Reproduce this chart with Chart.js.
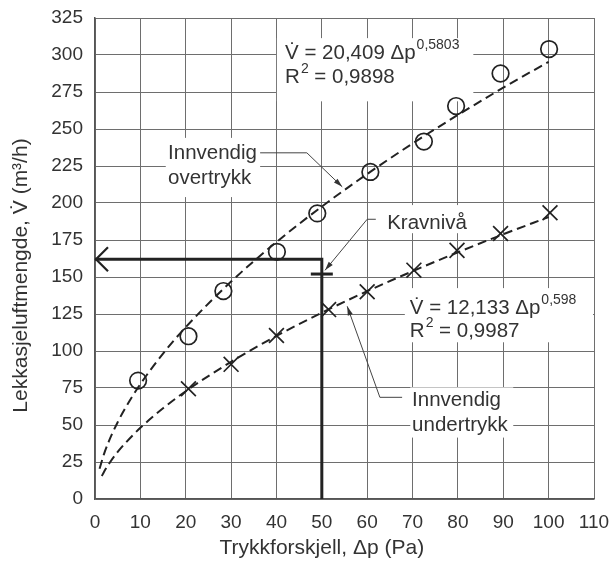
<!DOCTYPE html>
<html>
<head>
<meta charset="utf-8">
<script src="https://cdn.jsdelivr.net/npm/chart.js@4.4.1/dist/chart.umd.min.js"></script>
<style>
  html, body { margin: 0; padding: 0; background: #fff; }
  #wrap { width: 611px; height: 561px; }
</style>
</head>
<body>
<div id="wrap"><canvas id="lekkasjeChart" width="611" height="561"></canvas></div>
<script>
// Måleverdier, innvendig overtrykk (sirkler)
const overX = [9.5, 20.6, 28.3, 40.1, 49.0, 60.7, 72.5, 79.6, 89.4, 100.1];
const overY = [80, 110, 140.5, 167, 193, 221, 241.5, 265.5, 287.5, 304];

// Måleverdier, innvendig undertrykk (kryss)
const underX = [20.6, 30.0, 40.0, 51.5, 60.0, 70.3, 79.8, 89.4, 100.3];
const underY = [74.5, 91, 110.5, 128, 140, 154.6, 168, 179.4, 193.4];

// Tilpassede kurver (stiplet)
const kurveOverX = [1, 2, 3, 5, 7, 10, 15, 20, 30, 40, 50, 60, 70, 80, 90, 100];
const kurveOverY = [20.4, 30.5, 38.6, 51.9, 63.1, 77.6, 98.3, 116.1, 146.9, 173.6, 197.6, 219.6, 240.2, 259.5, 277.9, 295.4];
const kurveUnderX = [1.5, 2, 3, 5, 7, 10, 15, 20, 30, 40, 50, 60, 70, 80, 90, 100];
const kurveUnderY = [15.5, 18.4, 23.4, 31.8, 38.8, 48.1, 61.3, 72.8, 92.7, 110.2, 125.9, 140.4, 153.9, 166.7, 178.9, 190.5];

// Kravnivå ved 50 Pa
const kravX = [0, 50, 50];
const kravY = [162, 162, 0];
const kravMerke = { x: 50, y: 152 };

// Akser
const xTicks = [0, 10, 20, 30, 40, 50, 60, 70, 80, 90, 100, 110];
const yTicks = [0, 25, 50, 75, 100, 125, 150, 175, 200, 225, 250, 275, 300, 325];

const FONT = "'Liberation Sans', Arial, sans-serif";
const TEKST = '#333';
const STREK = '#222';

function punkter(xs, ys) {
    return xs.map((x, i) => ({ x: x, y: ys[i] }));
}

// Tegner en liten fylt pilspiss i (x2,y2), rettet fra (x1,y1)
function pilspiss(ctx, x1, y1, x2, y2) {
    const a = Math.atan2(y2 - y1, x2 - x1);
    const l = 9, b = 2.6;
    ctx.beginPath();
    ctx.moveTo(x2, y2);
    ctx.lineTo(x2 - l * Math.cos(a) + b * Math.sin(a), y2 - l * Math.sin(a) - b * Math.cos(a));
    ctx.lineTo(x2 - l * Math.cos(a) - b * Math.sin(a), y2 - l * Math.sin(a) + b * Math.cos(a));
    ctx.closePath();
    ctx.fill();
}

// Tekst med hevet eksponent, returnerer x etter eksponenten
function formel(ctx, x, y, grunn, eksp) {
    ctx.font = '20.5px ' + FONT;
    ctx.fillText(grunn, x, y);
    const w = ctx.measureText(grunn).width;
    ctx.font = '14px ' + FONT;
    ctx.fillText(eksp, x + w + 1, y - 10);
    return x + w + 1 + ctx.measureText(eksp).width;
}

const annotasjoner = {
    id: 'annotasjoner',
    beforeDatasetsDraw(chart) {
        const ctx = chart.ctx;
        const sx = chart.scales.x, sy = chart.scales.y;
        // hvite felt bak tekstene, skjuler rutenettet
        const felt = [
            [40.1, 83.4, 311.4, 268.7],
            [68.3, 110, 142.5, 105.9],
            [15.6, 36.4, 244, 204],
            [62.8, 83.1, 198.6, 179.6],
            [69.5, 92.2, 75.4, 41.5]
        ];
        ctx.save();
        ctx.fillStyle = '#fff';
        felt.forEach(f => {
            const x1 = sx.getPixelForValue(f[0]), x2 = Math.min(sx.getPixelForValue(f[1]), chart.chartArea.right - 1);
            const y1 = sy.getPixelForValue(f[2]), y2 = sy.getPixelForValue(f[3]);
            ctx.fillRect(x1, y1, x2 - x1, y2 - y1);
        });
        ctx.restore();
    },
    afterDatasetsDraw(chart) {
        const ctx = chart.ctx;
        const sx = chart.scales.x, sy = chart.scales.y;
        const px = v => sx.getPixelForValue(v);
        const py = v => sy.getPixelForValue(v);
        ctx.save();

        // åpen pil ved y-aksen
        ctx.strokeStyle = STREK;
        ctx.lineWidth = 2.2;
        ctx.beginPath();
        ctx.moveTo(px(0) + 13, py(kravY[0]) - 12);
        ctx.lineTo(px(0) + 1, py(kravY[0]));
        ctx.lineTo(px(0) + 13, py(kravY[0]) + 12);
        ctx.stroke();

        // T-merke for kravnivå
        ctx.lineWidth = 3;
        ctx.beginPath();
        ctx.moveTo(px(kravMerke.x) - 11, py(kravMerke.y));
        ctx.lineTo(px(kravMerke.x) + 11, py(kravMerke.y));
        ctx.stroke();

        // ledelinjer
        ctx.strokeStyle = '#444';
        ctx.fillStyle = '#333';
        ctx.lineWidth = 1;
        const ledere = [
            [[36.4, 233.9], [46.7, 233.9], [54.5, 210.9]],
            [[61.9, 189], [60.0, 189], [50.7, 154.5]],
            [[67.7, 68.7], [62.8, 68.7], [55.6, 130.2]]
        ];
        ledere.forEach(l => {
            ctx.beginPath();
            l.forEach((p, i) => i ? ctx.lineTo(px(p[0]), py(p[1])) : ctx.moveTo(px(p[0]), py(p[1])));
            ctx.stroke();
            const a = l[l.length - 2], b = l[l.length - 1];
            pilspiss(ctx, px(a[0]), py(a[1]), px(b[0]), py(b[1]));
        });

        // tekster
        ctx.fillStyle = TEKST;
        ctx.textBaseline = 'alphabetic';
        ctx.textAlign = 'left';
        formel(ctx, px(41.9), py(297), 'V\u0307 = 20,409 \u0394p', '0,5803');
        let xr = formel(ctx, px(41.9), py(281), 'R', '2');
        ctx.font = '20.5px ' + FONT;
        ctx.fillText(' = 0,9898', xr, py(281));

        formel(ctx, px(69.4), py(125.2), 'V\u0307 = 12,133 \u0394p', '0,598');
        xr = formel(ctx, px(69.4), py(109.4), 'R', '2');
        ctx.font = '20.5px ' + FONT;
        ctx.fillText(' = 0,9987', xr, py(109.4));

        ctx.font = '20.5px ' + FONT;
        ctx.fillText('Innvendig', px(16.1), py(229.5));
        ctx.fillText('overtrykk', px(16.1), py(212.6));
        ctx.fillText('Kravnivå', px(64.4), py(182.1));
        ctx.fillText('Innvendig', px(69.9), py(62.7));
        ctx.fillText('undertrykk', px(69.9), py(46.2));

        // aksetitler
        ctx.font = '21px ' + FONT;
        ctx.textAlign = 'center';
        ctx.fillText('Trykkforskjell, \u0394p (Pa)', px(50), chart.chartArea.bottom + 55);
        ctx.translate(27, py(151));
        ctx.rotate(-Math.PI / 2);
        ctx.fillText('Lekkasjeluftmengde, V\u0307 (m\u00b3/h)', 0, 0);
        ctx.restore();
    }
};

const ctx = document.getElementById('lekkasjeChart').getContext('2d');
new Chart(ctx, {
    type: 'scatter',
    data: {
        datasets: [
            {
                label: 'Kurve overtrykk',
                data: punkter(kurveOverX, kurveOverY),
                showLine: true,
                borderColor: STREK,
                borderWidth: 2,
                borderDash: [9, 5],
                cubicInterpolationMode: 'monotone',
                pointRadius: 0
            },
            {
                label: 'Kurve undertrykk',
                data: punkter(kurveUnderX, kurveUnderY),
                showLine: true,
                borderColor: STREK,
                borderWidth: 2,
                borderDash: [9, 5],
                cubicInterpolationMode: 'monotone',
                pointRadius: 0
            },
            {
                label: 'Innvendig overtrykk',
                data: punkter(overX, overY),
                pointStyle: 'circle',
                pointRadius: 8.3,
                borderColor: STREK,
                backgroundColor: 'rgba(0,0,0,0)',
                borderWidth: 1.7
            },
            {
                label: 'Innvendig undertrykk',
                data: punkter(underX, underY),
                pointStyle: 'crossRot',
                pointRadius: 10.5,
                borderColor: STREK,
                borderWidth: 1.7
            },
            {
                label: 'Kravnivå',
                data: punkter(kravX, kravY),
                showLine: true,
                borderColor: STREK,
                borderWidth: 3,
                pointRadius: 0
            }
        ]
    },
    options: {
        responsive: false,
        animation: false,
        layout: { padding: { left: 0, top: 18, right: 17, bottom: 0 } },
        plugins: {
            legend: { display: false },
            tooltip: { enabled: false }
        },
        scales: {
            x: {
                type: 'linear',
                min: 0,
                max: 110,
                afterBuildTicks: axis => { axis.ticks = xTicks.map(v => ({ value: v })); },
                afterFit: axis => {
                    axis.height = 62;
                    axis.paddingLeft = 0;
                    axis.paddingRight = 0;
                },
                grid: { color: '#6e6e6e', lineWidth: 1, drawTicks: false },
                border: { color: '#555', width: 1.5 },
                ticks: { font: { family: FONT, size: 19 }, color: TEKST, padding: 12, maxRotation: 0 }
            },
            y: {
                type: 'linear',
                min: 0,
                max: 325,
                afterBuildTicks: axis => { axis.ticks = yTicks.map(v => ({ value: v })); },
                afterFit: axis => {
                    axis.width = 95;
                    axis.paddingTop = 0;
                    axis.paddingBottom = 0;
                },
                grid: { color: '#6e6e6e', lineWidth: 1, drawTicks: false },
                border: { color: '#555', width: 1.5 },
                ticks: { font: { family: FONT, size: 19 }, color: TEKST, padding: 12 }
            }
        }
    },
    plugins: [annotasjoner]
});
</script>
</body>
</html>
